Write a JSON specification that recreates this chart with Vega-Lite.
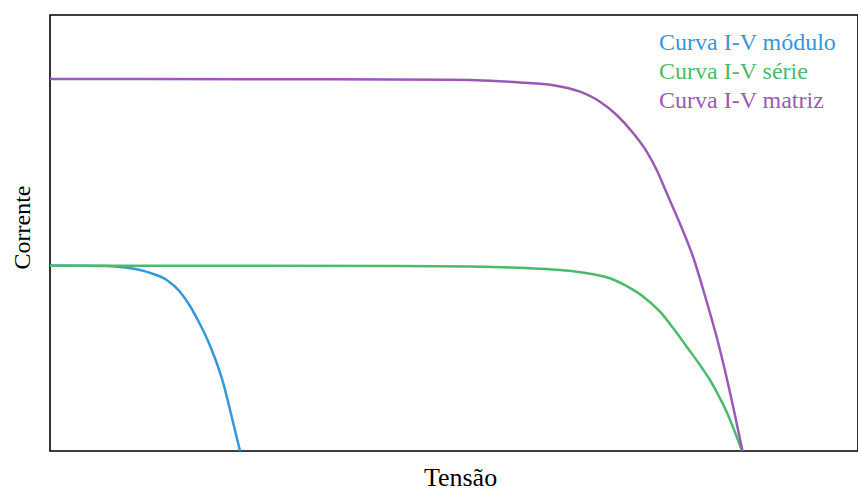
{
  "$schema": "https://vega.github.io/schema/vega-lite/v6.json",
  "autosize": {"type": "none"},
  "width": 808,
  "height": 436,
  "padding": {"left": 50, "top": 15, "right": 0, "bottom": 41},
  "background": "white",
  "config": {
    "view": {"stroke": "black", "strokeWidth": 1.6},
    "font": "Liberation Serif"
  },
  "data": {
    "values": [
      {"s": "Curva I-V módulo", "v": 0, "i": 185.4},
      {"s": "Curva I-V módulo", "v": 30, "i": 185.3},
      {"s": "Curva I-V módulo", "v": 56.7, "i": 185},
      {"s": "Curva I-V módulo", "v": 73.3, "i": 183.8},
      {"s": "Curva I-V módulo", "v": 90, "i": 181},
      {"s": "Curva I-V módulo", "v": 103.3, "i": 177},
      {"s": "Curva I-V módulo", "v": 116.7, "i": 171},
      {"s": "Curva I-V módulo", "v": 130, "i": 159.3},
      {"s": "Curva I-V módulo", "v": 140, "i": 145},
      {"s": "Curva I-V módulo", "v": 148.3, "i": 130},
      {"s": "Curva I-V módulo", "v": 156.7, "i": 113},
      {"s": "Curva I-V módulo", "v": 165, "i": 92.7},
      {"s": "Curva I-V módulo", "v": 173.3, "i": 67.7},
      {"s": "Curva I-V módulo", "v": 181.7, "i": 34.3},
      {"s": "Curva I-V módulo", "v": 190, "i": 0},
      {"s": "Curva I-V série", "v": 0, "i": 185.3},
      {"s": "Curva I-V série", "v": 200, "i": 185.3},
      {"s": "Curva I-V série", "v": 350, "i": 185},
      {"s": "Curva I-V série", "v": 420, "i": 184.4},
      {"s": "Curva I-V série", "v": 460, "i": 183.5},
      {"s": "Curva I-V série", "v": 490, "i": 182.3},
      {"s": "Curva I-V série", "v": 510, "i": 181},
      {"s": "Curva I-V série", "v": 526.7, "i": 179.3},
      {"s": "Curva I-V série", "v": 543.3, "i": 176.7},
      {"s": "Curva I-V série", "v": 560, "i": 172.7},
      {"s": "Curva I-V série", "v": 576.7, "i": 164.8},
      {"s": "Curva I-V série", "v": 593.3, "i": 154.3},
      {"s": "Curva I-V série", "v": 610, "i": 139.3},
      {"s": "Curva I-V série", "v": 623.3, "i": 122.7},
      {"s": "Curva I-V série", "v": 636.7, "i": 104.3},
      {"s": "Curva I-V série", "v": 650, "i": 86},
      {"s": "Curva I-V série", "v": 660, "i": 71},
      {"s": "Curva I-V série", "v": 668.3, "i": 56},
      {"s": "Curva I-V série", "v": 676.7, "i": 39},
      {"s": "Curva I-V série", "v": 683.3, "i": 23},
      {"s": "Curva I-V série", "v": 692, "i": 0},
      {"s": "Curva I-V matriz", "v": 0, "i": 372},
      {"s": "Curva I-V matriz", "v": 200, "i": 371.8},
      {"s": "Curva I-V matriz", "v": 400, "i": 371.2},
      {"s": "Curva I-V matriz", "v": 440, "i": 370.2},
      {"s": "Curva I-V matriz", "v": 470, "i": 368.5},
      {"s": "Curva I-V matriz", "v": 503.3, "i": 365.8},
      {"s": "Curva I-V matriz", "v": 530, "i": 359.3},
      {"s": "Curva I-V matriz", "v": 550, "i": 349.3},
      {"s": "Curva I-V matriz", "v": 566.7, "i": 336},
      {"s": "Curva I-V matriz", "v": 583.3, "i": 317.7},
      {"s": "Curva I-V matriz", "v": 596.7, "i": 299.3},
      {"s": "Curva I-V matriz", "v": 606.7, "i": 281},
      {"s": "Curva I-V matriz", "v": 616.7, "i": 258},
      {"s": "Curva I-V matriz", "v": 626.7, "i": 235},
      {"s": "Curva I-V matriz", "v": 636.7, "i": 211},
      {"s": "Curva I-V matriz", "v": 643.3, "i": 193.5},
      {"s": "Curva I-V matriz", "v": 653, "i": 162},
      {"s": "Curva I-V matriz", "v": 670, "i": 101},
      {"s": "Curva I-V matriz", "v": 683, "i": 45},
      {"s": "Curva I-V matriz", "v": 692.5, "i": 0}
    ]
  },
  "mark": {"type": "line", "strokeWidth": 2.5, "interpolate": "monotone", "clip": true},
  "encoding": {
    "x": {
      "field": "v", "type": "quantitative",
      "scale": {"domain": [0, 808], "nice": false, "zero": false},
      "axis": {"title": "Tensão", "labels": false, "ticks": false, "grid": false, "domain": false,
               "titleFont": "Liberation Serif", "titleFontSize": 26, "titleFontWeight": "normal", "titleColor": "black", "titlePadding": 13, "titleX": 410}
    },
    "y": {
      "field": "i", "type": "quantitative",
      "scale": {"domain": [0, 436], "nice": false, "zero": false},
      "axis": {"title": "Corrente", "labels": false, "ticks": false, "grid": false, "domain": false,
               "titleFont": "Liberation Serif", "titleFontSize": 24, "titleFontWeight": "normal", "titleColor": "black", "titlePadding": 16, "titleY": 212}
    },
    "color": {
      "field": "s", "type": "nominal",
      "scale": {"domain": ["Curva I-V módulo", "Curva I-V série", "Curva I-V matriz"], "range": ["#3498db", "#4cba6a", "#9b59b6"]},
      "legend": {
        "title": null, "orient": "none", "legendX": 585, "legendY": 16,
        "symbolSize": 0, "symbolOpacity": 0, "symbolStrokeWidth": 0, "labelOffset": 0,
        "labelFont": "Liberation Serif", "labelFontSize": 24, "labelLimit": 400, "rowPadding": 5,
        "encode": {"labels": {"update": {"fill": {"scale": "color", "field": "value"}}}}
      }
    }
  }
}
